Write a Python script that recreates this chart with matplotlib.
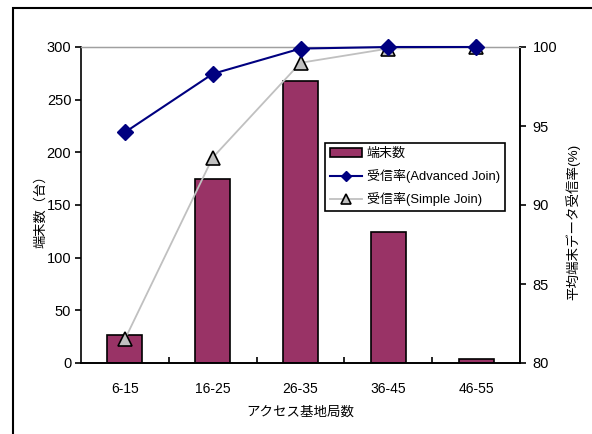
import matplotlib
matplotlib.use("Agg")
import matplotlib.pyplot as plt
from matplotlib.patches import Rectangle

plt.rcParams['font.family'] = ['Liberation Sans', 'Noto Sans CJK JP', 'DejaVu Sans']

# Data
categories = ["6-15", "16-25", "26-35", "36-45", "46-55"]
terminals = [27, 175, 268, 124, 4]
rate_advanced = [94.6, 98.3, 99.9, 100.0, 100.0]
rate_simple = [81.5, 93.0, 99.0, 99.9, 100.0]

fig = plt.figure(figsize=(5.92, 4.34), dpi=100)

# Outer frame around the chart area
fig.patches.append(Rectangle((13 / 592, -0.2), 1.2, 1 - 8 / 434 + 0.2,
                             transform=fig.transFigure, fill=False,
                             edgecolor='black', linewidth=1.5))

ax1 = fig.add_axes([81 / 592, 1 - 363 / 434, 439 / 592, 316 / 434])
x = list(range(len(categories)))

ax1.bar(x, terminals, width=0.4, color='#993366', edgecolor='black',
        linewidth=1.2, zorder=2)
ax1.set_xlim(-0.5, len(categories) - 0.5)
ax1.set_ylim(0, 300)
ax1.set_yticks(range(0, 301, 50))
ax1.set_xticks(x)
ax1.set_xticklabels(categories, fontsize=10)
ax1.set_xticks([i + 0.5 for i in x[:-1]], minor=True)
ax1.tick_params(axis='x', which='major', length=0, pad=14)
ax1.tick_params(axis='x', which='minor', direction='in', length=4, width=1.2)
ax1.tick_params(axis='y', direction='out', length=4, width=1.2,
                labelsize=10.5, pad=3)
ax1.set_ylabel("端末数（台）", fontsize=9.5)
ax1.yaxis.set_label_coords(-0.077, 0.49)
ax1.set_xlabel("アクセス基地局数", fontsize=9.7, labelpad=7)

for side in ('left', 'bottom', 'right'):
    ax1.spines[side].set_linewidth(1.2)
ax1.spines['top'].set_color('#a0a0a0')
ax1.spines['top'].set_linewidth(1.0)

ax2 = ax1.twinx()
l1, = ax2.plot(x, rate_advanced, color='#000080', linewidth=1.5,
               marker='D', markersize=8.5, markerfacecolor='#000080',
               markeredgecolor='#000080', clip_on=False, zorder=4,
               label="受信率(Advanced Join)")
l2, = ax2.plot(x, rate_simple, color='#c0c0c0', linewidth=1.3,
               marker='^', markersize=10, markerfacecolor='#c0c0c0',
               markeredgecolor='black', markeredgewidth=1.2,
               clip_on=False, zorder=3, label="受信率(Simple Join)")
ax2.set_ylim(80, 100)
ax2.set_yticks(range(80, 101, 5))
ax2.tick_params(axis='y', direction='out', length=4, width=1.2,
                labelsize=10.5, pad=5)
ax2.set_ylabel("平均端末データ受信率(%)", fontsize=9.7)
ax2.yaxis.set_label_coords(1.1025, 0.446)
ax2.spines['top'].set_color('#a0a0a0')
ax2.spines['right'].set_linewidth(1.2)
ax2.spines['left'].set_visible(False)
ax2.spines['bottom'].set_linewidth(1.2)

bar_handle = Rectangle((0, 0), 1, 1, facecolor='#993366',
                       edgecolor='black', linewidth=1.2)
leg = ax2.legend([bar_handle, l1, l2],
                 ["端末数", "受信率(Advanced Join)", "受信率(Simple Join)"],
                 loc='upper left', bbox_to_anchor=(325 / 592, 1 - 143 / 434),
                 bbox_transform=fig.transFigure, fontsize=9.4,
                 fancybox=False, framealpha=1, edgecolor='black',
                 markerscale=0.65, handlelength=2.4, handletextpad=0.4,
                 labelspacing=0.68, borderpad=0.4, borderaxespad=0)
leg.get_frame().set_linewidth(1.2)
leg.set_zorder(10)

fig.savefig("out.png", dpi=100)
